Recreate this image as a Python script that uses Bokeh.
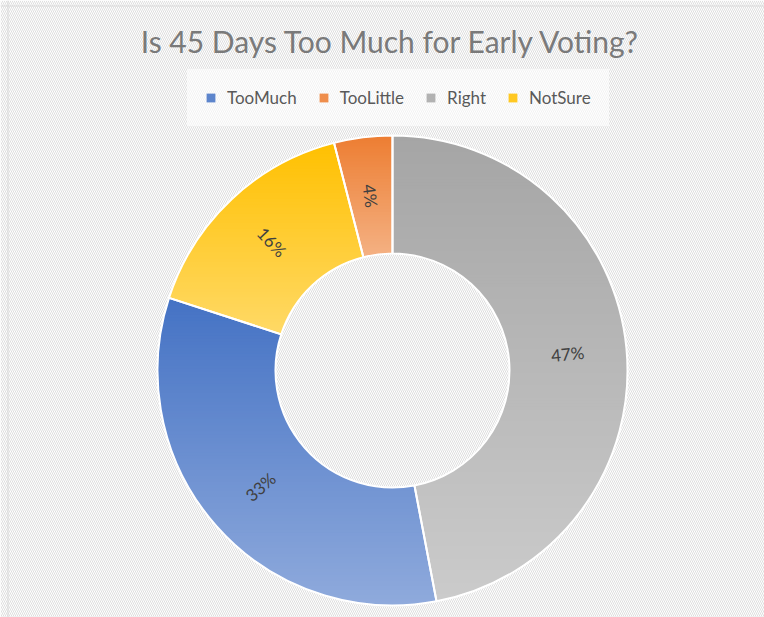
import numpy as np
from bokeh.plotting import figure
from bokeh.models import (ColumnDataSource, Range1d, BoxAnnotation, Label,
                          Legend, LegendItem, Span)
from bokeh.core.properties import value
from bokeh.embed import file_html
from bokeh.resources import INLINE

# ---------------- data ----------------
title_text = "Is 45 Days Too Much for Early Voting?"
categories = ["TooMuch", "TooLittle", "Right", "NotSure"]
percents = [33, 4, 47, 16]
# order in which the slices run clockwise from 12 o'clock
slice_order = ["Right", "TooMuch", "NotSure", "TooLittle"]

# ---------------- style ----------------
top_colors = {"TooMuch": "#4472C4", "TooLittle": "#ED7D31",
              "Right": "#A5A5A5", "NotSure": "#FFC000"}
bottom_colors = {"TooMuch": "#8FAADC", "TooLittle": "#F4B183",
                 "Right": "#CBCBCB", "NotSure": "#FFD966"}

W, H = 764, 617
CX, CY = 392, 370          # donut centre, figure px from top-left
R_OUT, R_IN = 235, 117
FONT = "Lato"

p = figure(width=W, height=H, x_range=Range1d(-CX, W - CX),
           y_range=Range1d(CY - H, CY), output_backend="svg",
           toolbar_location=None, min_border=0,
           x_axis_location=None, y_axis_location=None)
p.grid.visible = False
p.outline_line_color = None
p.background_fill_color = "white"
p.border_fill_color = "white"

# hatched chart-area background
p.add_layout(BoxAnnotation(fill_color="white", fill_alpha=1.0,
                           hatch_pattern="left_diagonal_line",
                           hatch_color="#DEDEDE", hatch_scale=4,
                           hatch_weight=1, line_alpha=0, level="underlay"))
p.add_layout(Span(location=7.5 - CX, dimension="height",
                  line_color="#D9D9D9", line_width=1))
p.add_layout(Span(location=CY - 5.5, dimension="width",
                  line_color="#D9D9D9", line_width=1))


def hex2rgb(h):
    return np.array([int(h[i:i + 2], 16) for i in (1, 3, 5)], float)


def mix(c0, c1, t):
    c = hex2rgb(c0) * (1 - t) + hex2rgb(c1) * t
    return "#%02x%02x%02x" % tuple(int(round(v)) for v in c)


def sector(th0, th1, n=240):
    t = np.radians(90 - np.linspace(th0, th1, n))
    xs = np.concatenate([R_OUT * np.cos(t), R_IN * np.cos(t[::-1])])
    ys = np.concatenate([R_OUT * np.sin(t), R_IN * np.sin(t[::-1])])
    return list(xs), list(ys)


def clip(xs, ys, yc, keep_above):
    ox, oy = [], []
    inside = (lambda y: y >= yc) if keep_above else (lambda y: y <= yc)
    n = len(xs)
    for i in range(n):
        x1, y1 = xs[i - 1], ys[i - 1]
        x2, y2 = xs[i], ys[i]
        i1, i2 = inside(y1), inside(y2)
        if i2:
            if not i1:
                f = (yc - y1) / (y2 - y1)
                ox.append(x1 + f * (x2 - x1)); oy.append(yc)
            ox.append(x2); oy.append(y2)
        elif i1:
            f = (yc - y1) / (y2 - y1)
            ox.append(x1 + f * (x2 - x1)); oy.append(yc)
    return ox, oy


pct = dict(zip(categories, percents))
total = float(sum(percents))
renderers, legend_index = {}, {}
w_start, w_end = [], []
lab = dict(x=[], y=[], text=[], angle=[])
r_mid = (R_IN + R_OUT) / 2.0

start = 0.0
for cat in slice_order:
    sweep = 360.0 * pct[cat] / total
    th0, th1 = start, start + sweep
    xs, ys = sector(th0, th1)
    ymax, ymin = max(ys), min(ys)
    nstrip = max(10, int(np.ceil((ymax - ymin) / 3.0)))
    h = (ymax - ymin) / nstrip
    sx, sy, sc = [], [], []
    for k in range(nstrip):
        hi = ymax - k * h + (1.0 if k > 0 else 0.5)
        lo = ymax - (k + 1) * h - (0.5 if k == nstrip - 1 else 0.0)
        ax, ay = clip(xs, ys, hi, keep_above=False)
        if len(ax) < 3:
            continue
        bx, by = clip(ax, ay, lo, keep_above=True)
        if len(bx) < 3:
            continue
        sx.append(bx); sy.append(by)
        sc.append(mix(top_colors[cat], bottom_colors[cat], (k + 0.5) / nstrip))
    src = ColumnDataSource(dict(xs=sx, ys=sy, color=sc))
    renderers[cat] = p.patches("xs", "ys", source=src, fill_color="color",
                               line_color=None)
    legend_index[cat] = len(sx) // 3

    w_start.append(np.radians(90 - th0))
    w_end.append(np.radians(90 - th1))

    mid = (th0 + th1) / 2.0
    a = 90.0 - mid
    rot = a
    while rot > 90:
        rot -= 180
    while rot <= -90:
        rot += 180
    lab["x"].append(r_mid * np.cos(np.radians(a)))
    lab["y"].append(r_mid * np.sin(np.radians(a)))
    lab["text"].append("%d%%" % pct[cat])
    lab["angle"].append(np.radians(rot))
    start = th1

# white slice borders
p.annular_wedge(x=0, y=0, inner_radius=R_IN, outer_radius=R_OUT,
                start_angle=w_start, end_angle=w_end, direction="clock",
                fill_alpha=0, line_color="white", line_width=2)

# data labels
p.text(x="x", y="y", text="text", angle="angle",
       source=ColumnDataSource(lab), text_font=value(FONT),
       text_font_size="17px", text_color="#404040",
       text_align="center", text_baseline="middle")

# title
p.add_layout(Label(x=-1.5, y=CY - 40, text=title_text, text_font=FONT,
                   text_font_size="30px", text_color="#7A7A7A",
                   text_align="center", text_baseline="alphabetic"))

# legend
items = [LegendItem(label=c, renderers=[renderers[c]], index=legend_index[c])
         for c in categories]
legend = Legend(items=items, orientation="horizontal", location=(187, H - 126),
                glyph_width=11, glyph_height=11, label_standoff=11,
                spacing=21, padding=18, margin=0, label_height=11,
                label_text_font=FONT, label_text_font_size="17px",
                label_text_color="#595959", background_fill_color="white",
                background_fill_alpha=0.6, border_line_alpha=0)
p.add_layout(legend)

open("out.html", "w").write(file_html(p, INLINE))
